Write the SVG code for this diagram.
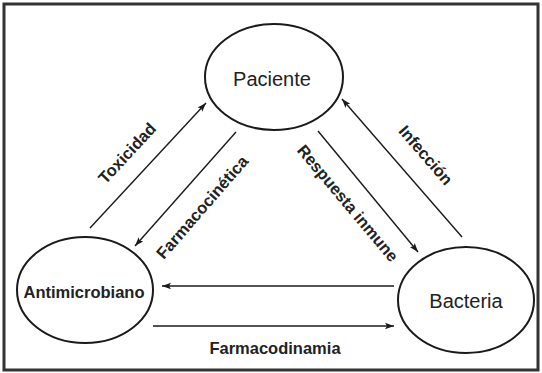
<svg xmlns="http://www.w3.org/2000/svg" width="542" height="373" viewBox="0 0 542 373">
<defs>
<marker id="ah" markerWidth="10" markerHeight="8" refX="9" refY="4" orient="auto" markerUnits="userSpaceOnUse">
<path d="M0,0.8 L9,4 L0,7.2 L2,4 Z" fill="#1a1a1a"/>
</marker>
</defs>
<style>
.node{fill:#fff;stroke:#1a1a1a;stroke-width:2}
.big{font-family:"Liberation Sans",Arial,sans-serif;font-size:20px;fill:#222;text-anchor:middle}
.lbl{font-family:"Liberation Sans",Arial,sans-serif;font-size:16.5px;font-weight:bold;fill:#222;text-anchor:middle;dominant-baseline:central}
.edge{stroke:#1a1a1a;stroke-width:1.4;fill:none;marker-end:url(#ah)}
</style>
<rect x="0" y="0" width="542" height="373" fill="#fff"/>
<rect x="4" y="4" width="534" height="366" fill="none" stroke="#333" stroke-width="3"/>
<g id="paciente">
<ellipse class="node" cx="274" cy="77" rx="69" ry="53"/>
<text class="big" x="272" y="86">Paciente</text>
</g>
<g id="antimicrobiano">
<ellipse class="node" cx="85" cy="290" rx="68" ry="53"/>
<text class="lbl" x="84" y="292">Antimicrobiano</text>
</g>
<g id="bacteria">
<ellipse class="node" cx="466" cy="300" rx="68" ry="53"/>
<text class="big" x="466" y="308">Bacteria</text>
</g>
<g id="connectors">
<line class="edge" x1="90" y1="228" x2="206" y2="103"/>
<line class="edge" x1="236" y1="132" x2="135" y2="246"/>
<line class="edge" x1="318" y1="131" x2="418" y2="252"/>
<line class="edge" x1="462" y1="237" x2="342" y2="99"/>
<line class="edge" x1="394" y1="286" x2="162" y2="286"/>
<line class="edge" x1="153" y1="326" x2="394" y2="326"/>
</g>
<g id="labels">
<text class="lbl" transform="translate(127,153) rotate(-47)">Toxicidad</text>
<text class="lbl" transform="translate(202,207) rotate(-49)">Farmacocinética</text>
<text class="lbl" transform="translate(348,203) rotate(50)">Respuesta inmune</text>
<text class="lbl" transform="translate(426,155) rotate(49)">Infección</text>
<text class="lbl" x="275" y="348">Farmacodinamia</text>
</g>
</svg>
